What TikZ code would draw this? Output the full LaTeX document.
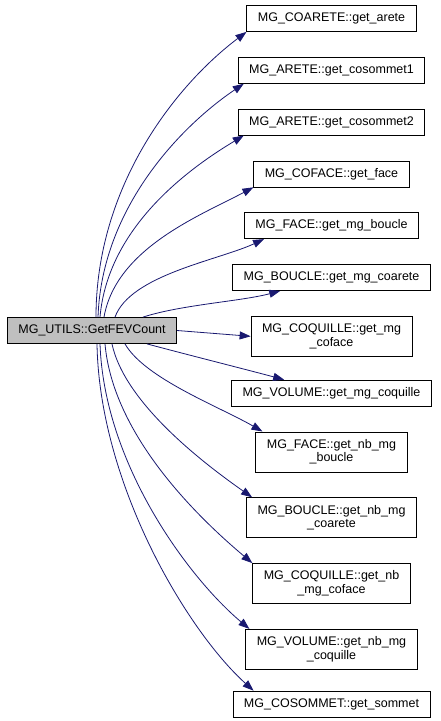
\documentclass[tikz,border=0pt]{standalone}
\usepackage{fontspec}
\setmainfont{Liberation Sans}
\usetikzlibrary{arrows.meta, positioning}

\definecolor{callblue}{RGB}{25,25,112}

\begin{document}
\begin{tikzpicture}[
    x=1pt, y=1pt,
    node distance=25pt,
    fn/.style={rectangle, draw, fill=white, line width=0.8pt, minimum height=26pt, inner xsep=11pt, inner ysep=2pt, align=center, font=\fontsize{12.5}{13.5}\selectfont},
    fntall/.style={fn, minimum height=40pt},
    caller/.style={fn, fill=black!25},
    call/.style={-{Triangle[length=11pt, width=8pt]}, color=callblue, line width=0.8pt}
]
\useasboundingbox (0,0) rectangle (440,-721);

% Nodes
\node[caller] (fev) at (92,-330.5) {MG\_UTILS::GetFEVCount};
\node[fn] (coarete) at (331.5,-18.5) {MG\_COARETE::get\_arete};
\node[fn, below=of coarete] (cosom1) {MG\_ARETE::get\_cosommet1};
\node[fn, below=of cosom1] (cosom2) {MG\_ARETE::get\_cosommet2};
\node[fn, below=of cosom2] (face) {MG\_COFACE::get\_face};
\node[fn, below=of face] (boucle) {MG\_FACE::get\_mg\_boucle};
\node[fn, below=of boucle] (mgcoarete) {MG\_BOUCLE::get\_mg\_coarete};
\node[fntall, below=of mgcoarete] (coface) {MG\_COQUILLE::get\_mg\\\_coface};
\node[fn, below=23pt of coface] (coquille) {MG\_VOLUME::get\_mg\_coquille};
\node[fntall, below=of coquille] (nbboucle) {MG\_FACE::get\_nb\_mg\\\_boucle};
\node[fntall, below=of nbboucle] (nbcoarete) {MG\_BOUCLE::get\_nb\_mg\\\_coarete};
\node[fntall, below=of nbcoarete] (nbcoface) {MG\_COQUILLE::get\_nb\\\_mg\_coface};
\node[fntall, below=of nbcoface] (nbcoquille) {MG\_VOLUME::get\_nb\_mg\\\_coquille};
\node[fn, below=21pt of nbcoquille] (sommet) {MG\_COSOMMET::get\_sommet};

% Arrows
\draw[call] ([xshift=4pt]fev.north) .. controls +(90:130) and +(217:90) .. (coarete.south west);
\draw[call] ([xshift=6pt]fev.north) .. controls +(88:110) and +(214:75) .. ([xshift=6pt]cosom1.south west);
\draw[call] ([xshift=8pt]fev.north) .. controls +(85:90) and +(211:65) .. ([xshift=6pt]cosom2.south west);
\draw[call] ([xshift=12pt]fev.north) .. controls +(80:70) and +(208:60) .. (face.south west);
\draw[call] ([xshift=23pt]fev.north) .. controls +(70:45) and +(205:50) .. ([xshift=20pt]boucle.south west);
\draw[call] ([xshift=51pt]fev.north) .. controls +(18:40) and +(195:40) .. ([xshift=48pt]mgcoarete.south west);
\draw[call] (fev.east) -- (coface.west);
\draw[call] ([xshift=55pt]fev.south) .. controls +(-15:40) and +(165:40) .. ([xshift=53pt]coquille.north west);
\draw[call] ([xshift=33pt]fev.south) .. controls +(-60:40) and +(150:50) .. ([xshift=7pt]nbboucle.north west);
\draw[call] ([xshift=20pt]fev.south) .. controls +(-78:60) and +(145:60) .. ([xshift=6pt]nbcoarete.north west);
\draw[call] ([xshift=13pt]fev.south) .. controls +(-85:90) and +(140:75) .. (nbcoface.north west);
\draw[call] ([xshift=8pt]fev.south) .. controls +(-88:120) and +(140:80) .. ([xshift=4pt]nbcoquille.north west);
\draw[call] ([xshift=5pt]fev.south) .. controls +(-89:140) and +(138:90) .. ([xshift=21pt]sommet.north west);

\end{tikzpicture}
\end{document}
